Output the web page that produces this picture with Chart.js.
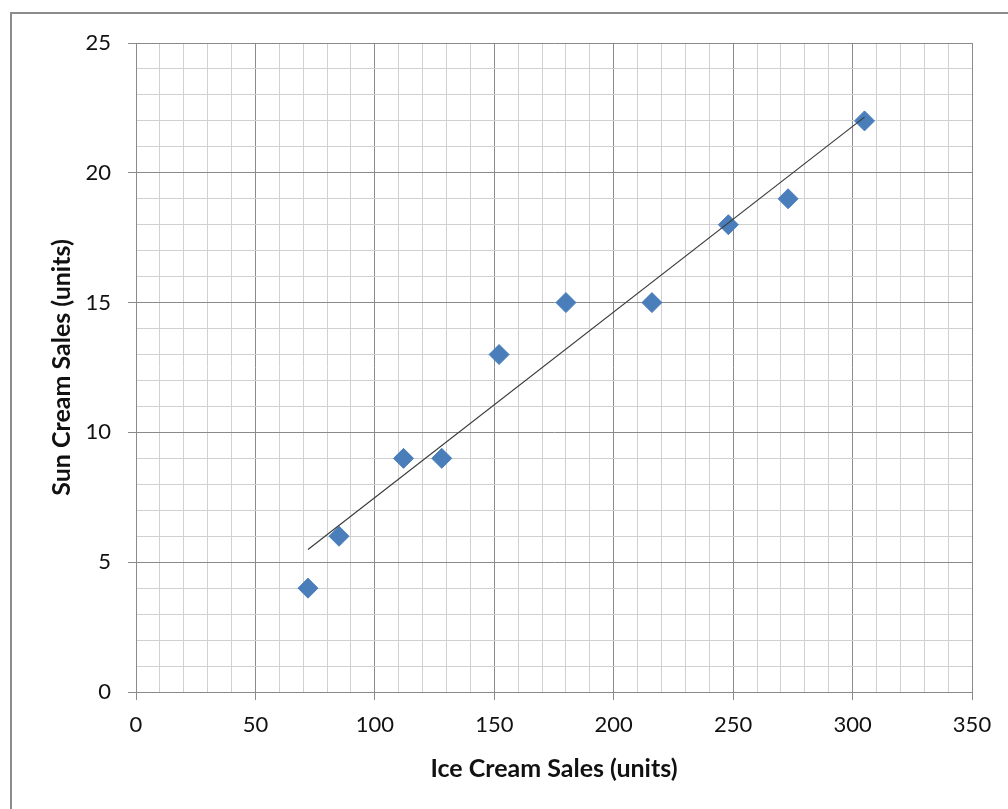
<!DOCTYPE html>
<html>
<head>
<meta charset="utf-8">
<title>Ice Cream vs Sun Cream Sales</title>
<script src="https://cdn.jsdelivr.net/npm/chart.js@4/dist/chart.umd.min.js"></script>
<style>
  html, body { margin: 0; padding: 0; background: #ffffff; }
  #wrap { position: relative; width: 1008px; height: 809px; }
</style>
</head>
<body>
<div id="wrap"><canvas id="chart" width="1008" height="809"></canvas></div>
<script>
// Paired daily sales figures
const iceCreamSales = [72, 85, 112, 128, 152, 180, 216, 248, 273, 305];
const sunCreamSales = [4, 6, 9, 9, 13, 15, 15, 18, 19, 22];

// Axis ranges and labelled tick values
const xMajorTicks = [0, 50, 100, 150, 200, 250, 300, 350];
const yMajorTicks = [0, 5, 10, 15, 20, 25];
const xTitle = 'Ice Cream Sales (units)';
const yTitle = 'Sun Cream Sales (units)';

const points = iceCreamSales.map((x, i) => ({ x: x, y: sunCreamSales[i] }));

// Least-squares linear trend across the observed x range
function linearTrend(xs, ys) {
  const n = xs.length;
  const mx = xs.reduce((a, b) => a + b, 0) / n;
  const my = ys.reduce((a, b) => a + b, 0) / n;
  let sxy = 0, sxx = 0;
  for (let i = 0; i < n; i++) {
    sxy += (xs[i] - mx) * (ys[i] - my);
    sxx += (xs[i] - mx) * (xs[i] - mx);
  }
  const slope = sxy / sxx;
  const icpt = my - slope * mx;
  const x0 = Math.min(...xs), x1 = Math.max(...xs);
  return [{ x: x0, y: icpt + slope * x0 }, { x: x1, y: icpt + slope * x1 }];
}
const trend = linearTrend(iceCreamSales, sunCreamSales);

const MAJOR = '#8a8a8a';
const MINOR = '#d0d0d0';
const FONT = 'Lato, Carlito, "Open Sans", sans-serif';

// Outer frame around the chart
const framePlugin = {
  id: 'frame',
  beforeDraw(chart) {
    const ctx = chart.ctx;
    ctx.save();
    ctx.fillStyle = '#ffffff';
    ctx.fillRect(0, 0, chart.width, chart.height);
    ctx.strokeStyle = '#8c8c8c';
    ctx.lineWidth = 2;
    ctx.strokeRect(11, 13, chart.width + 20, chart.height + 20);
    ctx.restore();
  }
};

new Chart(document.getElementById('chart'), {
  type: 'scatter',
  data: {
    datasets: [
      {
        label: 'Sales',
        data: points,
        pointStyle: 'rectRot',
        pointRadius: 10,
        pointHoverRadius: 10,
        backgroundColor: '#4a7ebb',
        borderColor: '#4a7ebb',
        borderWidth: 1,
        order: 1
      },
      {
        label: 'Linear trend',
        type: 'line',
        data: trend,
        borderColor: '#3c3c3c',
        borderWidth: 1.2,
        pointRadius: 0,
        fill: false,
        order: 0
      }
    ]
  },
  options: {
    responsive: false,
    animation: false,
    events: [],
    layout: { padding: { left: 0, top: 43, right: 36, bottom: 0 } },
    plugins: {
      legend: { display: false },
      tooltip: { enabled: false }
    },
    scales: {
      x: {
        type: 'linear',
        min: xMajorTicks[0],
        max: xMajorTicks[xMajorTicks.length - 1],
        afterFit(scale) { scale.height = 117; },
        ticks: {
          stepSize: 10,
          autoSkip: false,
          maxRotation: 0,
          padding: 12,
          color: '#111111',
          font: { family: FONT, size: 22 },
          callback: (v) => xMajorTicks.includes(v) ? String(v) : ''
        },
        grid: {
          color: (c) => xMajorTicks.includes(c.tick && c.tick.value) ? MAJOR : MINOR,
          tickColor: (c) => xMajorTicks.includes(c.tick && c.tick.value) ? MAJOR : 'rgba(0,0,0,0)',
          tickLength: 8,
          lineWidth: 1
        },
        border: { color: MAJOR, width: 1 },
        title: {
          display: true,
          text: xTitle,
          color: '#111111',
          font: { family: FONT, size: 25, weight: 'bold' },
          padding: { top: 0, bottom: 25 }
        }
      },
      y: {
        type: 'linear',
        min: yMajorTicks[0],
        max: yMajorTicks[yMajorTicks.length - 1],
        afterFit(scale) { scale.width = 136; },
        ticks: {
          stepSize: 1,
          autoSkip: false,
          padding: 17,
          color: '#111111',
          font: { family: FONT, size: 22 },
          callback: (v) => yMajorTicks.includes(v) ? String(v) : ''
        },
        grid: {
          color: (c) => yMajorTicks.includes(c.tick && c.tick.value) ? MAJOR : MINOR,
          tickColor: (c) => yMajorTicks.includes(c.tick && c.tick.value) ? MAJOR : 'rgba(0,0,0,0)',
          tickLength: 8,
          lineWidth: 1
        },
        border: { color: MAJOR, width: 1 },
        title: {
          display: true,
          text: yTitle,
          color: '#111111',
          font: { family: FONT, size: 25, weight: 'bold' },
          padding: { top: 47, bottom: 0 }
        }
      }
    }
  },
  plugins: [framePlugin]
});
</script>
</body>
</html>
